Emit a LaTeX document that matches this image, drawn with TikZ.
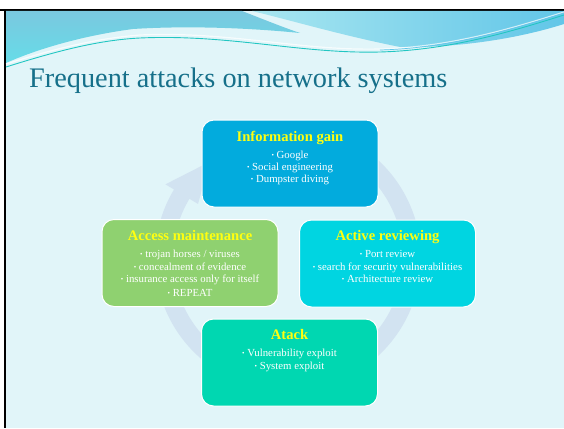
\documentclass[tikz,border=0pt]{standalone}
\usepackage{fontspec}
\setmainfont{Liberation Serif}
\usetikzlibrary{calc}
\definecolor{slidebg}{HTML}{E1F5F9}
\definecolor{bandtop}{HTML}{7AC8DF}
\definecolor{bandlow}{HTML}{66DCE8}
\definecolor{bandlight}{HTML}{A8E6F0}
\definecolor{banddeep}{HTML}{62C6E8}
\definecolor{tealline}{HTML}{22C6C2}
\definecolor{titlecol}{HTML}{16708A}
\definecolor{infocol}{HTML}{02ABDD}
\definecolor{accesscol}{HTML}{8FD170}
\definecolor{activecol}{HTML}{00D5E1}
\definecolor{attackcol}{HTML}{00D7B1}
\definecolor{ringcol}{HTML}{D2E3F1}
\definecolor{headcol}{HTML}{FFFF10}
\newcommand\bulletmark{{\fontsize{7}{7}\selectfont\raisebox{0.8pt}{•}}\ }
\tikzset{
  stagebox/.style={draw=white, line width=1pt, rounded corners=12pt,
    minimum width=176pt, minimum height=87pt, inner sep=0pt},
  stagehead/.style={font=\bfseries\fontsize{14.6}{16}\selectfont, text=headcol,
    inner sep=0pt, anchor=base},
  stageitem/.style={font=\fontsize{10.8}{12}\selectfont, text=white,
    inner sep=0pt, anchor=base},
  ring/.style={draw=ringcol, line width=18pt}
}
\begin{document}
\begin{tikzpicture}[x=1pt,y=-1pt]
\useasboundingbox (0,0) rectangle (564,428);
% slide background and frame
\fill[white] (0,0) rectangle (564,428);
\fill[slidebg] (6,11) rectangle (564,428);
\fill[black] (0,9) rectangle (564,11);
\fill[black] (4,9) rectangle (6,428);
% header waves
\shade[top color=bandtop, bottom color=bandlow]
  (6,11) -- (242,11) .. controls (265,20) and (285,28) .. (300,33)
  .. controls (240,27) and (180,26) .. (133,29)
  .. controls (80,36) and (35,50) .. (6,63) -- cycle;
\shade[left color=bandlight, right color=banddeep]
  (252,11) -- (564,11) -- (564,24)
  .. controls (520,38) and (460,48) .. (400,47)
  .. controls (340,35) and (290,20) .. (252,11) -- cycle;
\draw[white, line width=1.2pt, opacity=0.7]
  (6,64) .. controls (60,47) and (100,38) .. (140,35)
  .. controls (230,31) and (300,51) .. (380,49)
  .. controls (450,47) and (510,29) .. (564,12);
\draw[tealline, line width=0.9pt]
  (6,67) .. controls (60,50) and (100,40) .. (140,38)
  .. controls (230,34) and (300,54) .. (380,52)
  .. controls (450,50) and (510,32) .. (564,15);
\draw[banddeep, line width=0.7pt]
  (380,50) .. controls (450,48) and (510,30) .. (564,13);
% title
\node[anchor=base west, font=\fontsize{28.3}{31}\selectfont, text=titlecol, inner sep=0pt]
  (title) at (29,87) {Frequent attacks on network systems};
% cycle ring with arrow head
\coordinate (c) at (288,258);
\draw[ring] ($(c)+(250:124)$) arc[start angle=250, end angle=574, radius=124];
\fill[ringcol] ($(c)+(211:143)$) -- ($(c)+(231:124)$) -- ($(c)+(211:105)$) -- cycle;
% stages
\node[stagebox, fill=infocol] (info) at (290,163.5) {};
\node[stagebox, fill=accesscol] (access) at (190,263) {};
\node[stagebox, fill=activecol] (active) at (387.5,263.5) {};
\node[stagebox, fill=attackcol] (attack) at (289.5,362.5) {};
% information gain
\node[stagehead] (infoh) at (290,141.5) {Information gain};
\node[stageitem] (info1) at (290,158) {\bulletmark Google};
\node[stageitem] (info2) at (290,170.5) {\bulletmark Social engineering};
\node[stageitem] (info3) at (290,182.5) {\bulletmark Dumpster diving};
% access maintenance
\node[stagehead] (accessh) at (190,240.5) {Access maintenance};
\node[stageitem] (access1) at (190,257.5) {\bulletmark trojan horses / viruses};
\node[stageitem] (access2) at (190,270) {\bulletmark concealment of evidence};
\node[stageitem] (access3) at (190,282.5) {\bulletmark insurance access only for itself};
\node[stageitem] (access4) at (190,296) {\bulletmark REPEAT};
% active reviewing
\node[stagehead] (activeh) at (387.5,240.5) {Active reviewing};
\node[stageitem] (active1) at (387.5,257.5) {\bulletmark Port review};
\node[stageitem] (active2) at (387.5,270.5) {\bulletmark search for security vulnerabilities};
\node[stageitem] (active3) at (387.5,282) {\bulletmark Architecture review};
% attack
\node[stagehead] (attackh) at (289.5,339.5) {Atack};
\node[stageitem] (attack1) at (289.5,356.5) {\bulletmark Vulnerability exploit};
\node[stageitem] (attack2) at (289.5,369.5) {\bulletmark System exploit};
\end{tikzpicture}
\end{document}
